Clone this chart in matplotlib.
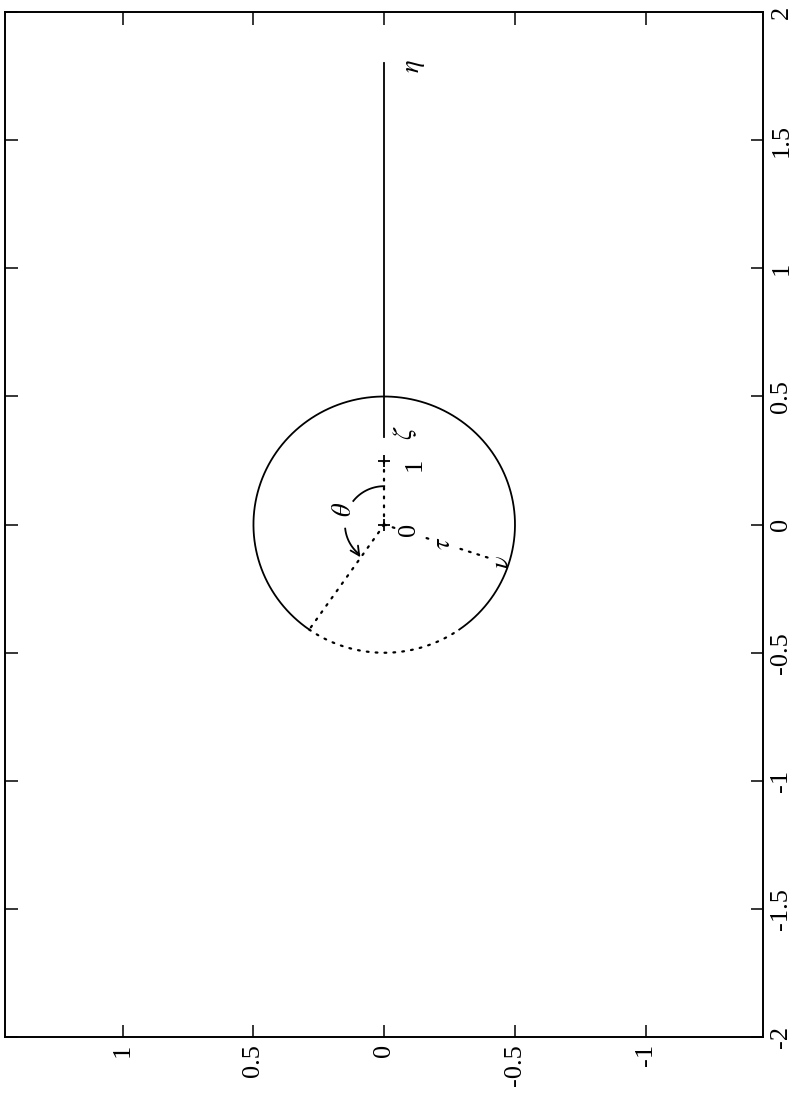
import numpy as np
import matplotlib
matplotlib.use("Agg")
import matplotlib.pyplot as plt

# original (unrotated) coordinates: x along the long side, y across it
x_ticks = [-2, -1.5, -1, -0.5, 0, 0.5, 1, 1.5, 2]
x_tick_labels = ["-2", "-1.5", "-1", "-0.5", "0", "0.5", "1", "1.5", "2"]
y_ticks = [1, 0.5, 0, -0.5, -1]
y_tick_labels = ["1", "0.5", "0", "-0.5", "-1"]

radius = 0.5
dotted_arc = [145, 215]          # degrees, part of the circle drawn dotted
slit_x = [0.34, 1.80]            # solid line on y = 0
marker_x = [0.0, 0.25]           # the two "+" marks
theta_ray_angle = 145
nu_ray_angle = -108
nu_ray_len = 0.44

labels = [
    # text, x, y, masked (white box under it)
    (r"$\eta$", 1.79, -0.12, False),
    (r"$\zeta$", 0.36, -0.08, False),
    ("1", 0.235, -0.115, False),
    ("0", -0.02, -0.095, True),
    (r"$\theta$", 0.06, 0.15, False),
    (r"$\tau$", -0.075, -0.23, True),
    (r"$\nu$", -0.145, -0.455, False),
]

plt.rcParams["font.family"] = ["Liberation Serif", "DejaVu Serif"]
plt.rcParams["mathtext.fontset"] = "stix"


def show(ax, x, y, *args, **kw):
    # rotated view: horizontal = y (inverted), vertical = x
    return ax.plot(y, x, *args, **kw)


fig = plt.figure(figsize=(7.95, 11.01), dpi=100)
ax = fig.add_axes([0.0063, 0.058, 0.954, 0.931])

dot = dict(color="black", lw=1.6, linestyle=(0, (0.8, 3.2)), dash_capstyle="round")
solid = dict(color="black", lw=1.3)

# circle: solid and dotted parts
t = np.radians(np.linspace(dotted_arc[1], dotted_arc[0] + 360, 400))
show(ax, radius * np.cos(t), radius * np.sin(t), **solid)
t = np.radians(np.linspace(dotted_arc[0], dotted_arc[1], 120))
show(ax, radius * np.cos(t), radius * np.sin(t), **dot)

# slit
show(ax, slit_x, [0, 0], **solid)

# dotted segments
show(ax, marker_x, [0, 0], **dot)
a = np.radians(theta_ray_angle)
show(ax, [0, radius * np.cos(a)], [0, radius * np.sin(a)], **dot)
a = np.radians(nu_ray_angle)
show(ax, [0, nu_ray_len * np.cos(a)], [0, nu_ray_len * np.sin(a)], **dot)

# plus markers
show(ax, marker_x, [0, 0], "+", color="black", ms=9, mew=1.3)

# theta arc with arrow
r = 0.15
t = np.radians(np.linspace(0, 52, 40))
show(ax, r * np.cos(t), r * np.sin(t), **solid)
t = np.radians(np.linspace(96, 140, 40))
xs, ys = r * np.cos(t), r * np.sin(t)
show(ax, xs, ys, **solid)
ax.annotate("", xy=(ys[-1] - 0.005, xs[-1] - 0.012), xytext=(ys[-4], xs[-4]),
            arrowprops=dict(arrowstyle="->", color="black", lw=1.3,
                            mutation_scale=16))

for txt, lx, ly, masked in labels:
    bbox = dict(facecolor="white", edgecolor="none", pad=0.5) if masked else None
    ax.text(ly, lx, txt, rotation=90, ha="center", va="center", fontsize=19,
            bbox=bbox)

ax.set_xlim(1.45, -1.45)
ax.set_ylim(-2, 2)

ax.set_xticks(y_ticks)
ax.set_xticklabels(y_tick_labels, rotation=90, fontsize=19)
ax.set_yticks(x_ticks)
ax.set_yticklabels(x_tick_labels, rotation=90, fontsize=19, va="center")
ax.yaxis.tick_right()
ax.tick_params(direction="in", length=9, width=1.1, top=True, bottom=True,
               left=True, right=True, labelleft=False, labelright=True, pad=5)
for s in ax.spines.values():
    s.set_linewidth(1.4)

fig.savefig("out.png", dpi=100)
